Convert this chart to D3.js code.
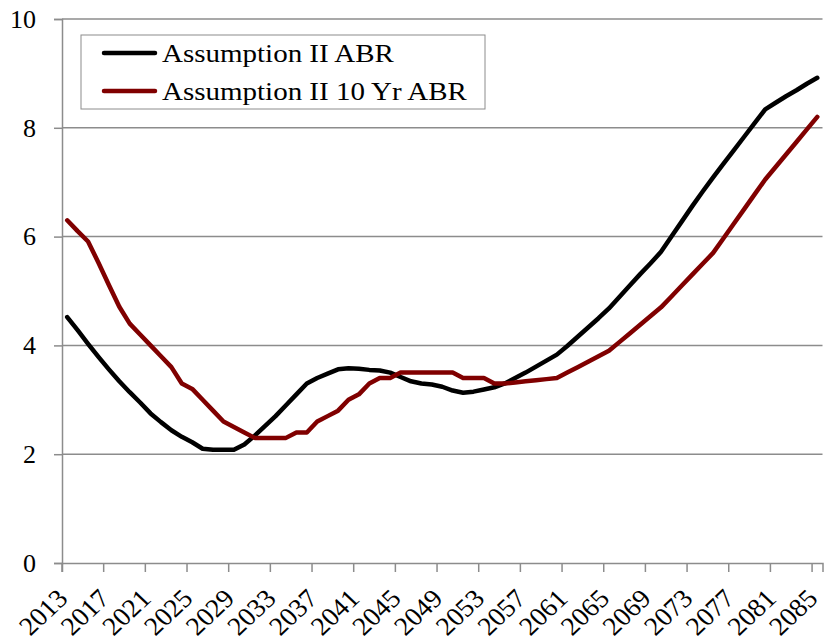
<!DOCTYPE html>
<html>
<head>
<meta charset="utf-8">
<script src="https://cdn.jsdelivr.net/npm/d3@7"></script>
<style>
  body { margin: 0; background: #fff; }
  svg { display: block; }
</style>
</head>
<body>
<div class="display"></div>
<script>
// years 2013..2085, one value per year
const years = d3.range(2013, 2086);
const tickYears = d3.range(2013, 2086, 4);
const yTicks = [0, 2, 4, 6, 8, 10];
const seriesNames = ['Assumption II ABR', 'Assumption II 10 Yr ABR'];

const abr = [
    4.52, 4.28, 4.03, 3.79, 3.56, 3.34, 3.14, 2.95, 2.75, 2.59,
    2.44, 2.32, 2.22, 2.10, 2.08, 2.08, 2.08, 2.18, 2.34, 2.52,
    2.70, 2.90, 3.10, 3.30, 3.40, 3.48, 3.56, 3.58, 3.57, 3.55,
    3.54, 3.50, 3.42, 3.34, 3.30, 3.28, 3.24, 3.17, 3.13, 3.15,
    3.19, 3.23, 3.30, 3.40, 3.50, 3.61, 3.72, 3.83, 3.99, 4.16,
    4.33, 4.50, 4.68, 4.89, 5.10, 5.31, 5.51, 5.72, 6.00, 6.28,
    6.56, 6.83, 7.09, 7.34, 7.59, 7.84, 8.09, 8.34, 8.46, 8.58,
    8.69, 8.81, 8.92
];

const abr10 = [
    6.30, 6.10, 5.91, 5.52, 5.11, 4.71, 4.40, 4.20, 4.00, 3.80,
    3.60, 3.30, 3.20, 3.00, 2.80, 2.60, 2.50, 2.40, 2.30, 2.30,
    2.30, 2.30, 2.40, 2.40, 2.60, 2.70, 2.80, 3.00, 3.10, 3.30,
    3.40, 3.40, 3.50, 3.50, 3.50, 3.50, 3.50, 3.50, 3.40, 3.40,
    3.40, 3.30, 3.30, 3.32, 3.34, 3.36, 3.38, 3.40, 3.50, 3.60,
    3.70, 3.80, 3.90, 4.06, 4.22, 4.38, 4.54, 4.70, 4.90, 5.10,
    5.30, 5.50, 5.70, 5.97, 6.24, 6.51, 6.78, 7.05, 7.28, 7.51,
    7.74, 7.97, 8.20
];

const colors = ['#000000', '#800000'];
const serif = "'Liberation Serif', serif";
// the original picture is a little wider than tall, text included
const stretch = 1.06;

const width = 825;
const height = 643;
const plotLeft = 62, plotRight = 822.5, plotTop = 19, plotBottom = 563;

const svg = d3.select('.display')
    .append('svg')
    .attr('width', width)
    .attr('height', height);

const xScale = d3.scaleBand()
    .domain(years)
    .range([plotLeft, plotRight])
    .paddingInner(0)
    .paddingOuter(0);
const bw = xScale.bandwidth();
const xc = yr => xScale(yr) + bw / 2;

const yScale = d3.scaleLinear()
    .domain([0, 10])
    .range([plotBottom, plotTop]);

// gridlines
svg.append('g')
    .attr('class', 'grid')
    .selectAll('line')
    .data(yTicks.filter(d => d !== 0))
    .enter()
    .append('line')
    .attr('x1', plotLeft)
    .attr('x2', plotRight)
    .attr('y1', d => yScale(d))
    .attr('y2', d => yScale(d))
    .attr('stroke', '#8c8c8c')
    .attr('stroke-width', 1.5);

// y axis
const yAxis = d3.axisLeft(yScale)
    .tickValues(yTicks)
    .tickSize(8)
    .tickPadding(18)
    .tickFormat(d => d);

const gy = svg.append('g')
    .attr('transform', `translate(${plotLeft}, 0)`)
    .call(yAxis);
gy.select('.domain').attr('stroke', '#8c8c8c').attr('stroke-width', 1.5);
gy.selectAll('.tick line').attr('stroke', '#8c8c8c').attr('stroke-width', 1.5);
gy.selectAll('.tick text')
    .attr('fill', '#000')
    .style('font-family', serif)
    .style('font-size', '26px');

// x axis: tick marks sit on the category boundaries
const xAxis = d3.axisBottom(xScale)
    .tickValues(tickYears)
    .tickSize(9)
    .tickFormat('');

const gx = svg.append('g')
    .attr('transform', `translate(0, ${plotBottom})`)
    .call(xAxis);
gx.select('.domain').attr('stroke', '#8c8c8c').attr('stroke-width', 1.5);
gx.selectAll('.tick line')
    .attr('stroke', '#8c8c8c')
    .attr('stroke-width', 1.5)
    .attr('transform', `translate(${-bw / 2}, 0)`);

svg.append('g')
    .selectAll('text')
    .data(tickYears)
    .enter()
    .append('text')
    .attr('text-anchor', 'end')
    .attr('fill', '#000')
    .style('font-family', serif)
    .style('font-size', '26px')
    .attr('transform', d => `translate(${xc(d) + 2}, ${plotBottom + 37}) scale(${stretch}, 1) rotate(-45)`)
    .text(d => d);

// lines
const line = d3.line()
    .x((d, i) => xc(years[i]))
    .y(d => yScale(d));

[abr, abr10].forEach((series, i) => {
    svg.append('path')
        .datum(series)
        .attr('fill', 'none')
        .attr('stroke', colors[i])
        .attr('stroke-width', 4.5)
        .attr('stroke-linejoin', 'round')
        .attr('stroke-linecap', 'round')
        .attr('d', line);
});

// legend
const legend = svg.append('g').attr('id', 'legend');

legend.append('rect')
    .attr('x', 81)
    .attr('y', 35)
    .attr('width', 404)
    .attr('height', 74)
    .attr('fill', '#fff')
    .attr('stroke', '#8c8c8c')
    .attr('stroke-width', 1);

seriesNames.forEach((name, i) => {
    const ly = 53 + i * 38;
    legend.append('line')
        .attr('x1', 104)
        .attr('x2', 155)
        .attr('y1', ly)
        .attr('y2', ly)
        .attr('stroke', colors[i])
        .attr('stroke-width', 4.5)
        .attr('stroke-linecap', 'round');
    legend.append('text')
        .attr('fill', '#000')
        .style('font-family', serif)
        .style('font-size', '25px')
        .attr('transform', `translate(162, ${ly + 9}) scale(1.16, 1)`)
        .text(name);
});
</script>
</body>
</html>
